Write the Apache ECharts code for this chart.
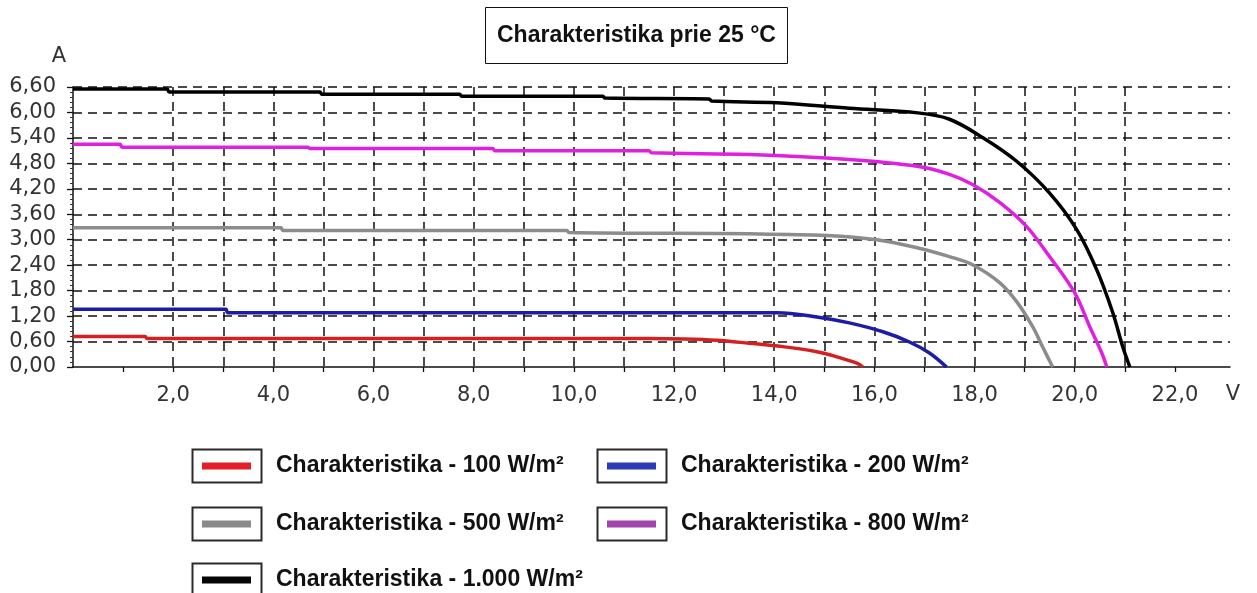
<!DOCTYPE html>
<html>
<head>
<meta charset="utf-8">
<title>Charakteristika prie 25 °C</title>
<script src="https://cdn.jsdelivr.net/npm/echarts@6/dist/echarts.min.js"></script>
<style>
  html, body { margin: 0; padding: 0; background: #fff; }
  #chart { width: 1257px; height: 593px; }
</style>
</head>
<body>
<div id="chart"></div>
<script>
// I-V curves of the module at 25 °C, [voltage V, current A]
const iv100 = [[0, 0.72], [1.44, 0.72], [1.48, 0.67], [11.5, 0.67], [12.2, 0.66], [12.85, 0.63], [13.5, 0.56], [14.17, 0.48], [14.85, 0.36], [15.25, 0.24], [15.65, 0.09], [15.77, 0]];
const iv200 = [[0, 1.36], [3.05, 1.36], [3.09, 1.28], [14.05, 1.28], [14.85, 1.18], [15.5, 1.04], [16.17, 0.83], [16.7, 0.59], [17.1, 0.33], [17.44, 0]];
const iv500 = [[0, 3.28], [4.15, 3.28], [4.19, 3.22], [9.86, 3.22], [9.9, 3.17], [13.5, 3.14], [15.05, 3.10], [16.05, 3.0], [16.85, 2.81], [17.5, 2.60], [17.96, 2.41], [18.5, 1.99], [18.84, 1.54], [19.16, 0.95], [19.36, 0.47], [19.56, 0]];
const iv800 = [[0, 5.25], [0.94, 5.25], [0.98, 5.18], [4.69, 5.18], [4.73, 5.15], [8.38, 5.15], [8.42, 5.10], [11.5, 5.10], [11.55, 5.05], [13.5, 5.01], [15.5, 4.89], [16.85, 4.73], [17.5, 4.54], [17.96, 4.30], [18.5, 3.88], [19.04, 3.31], [19.5, 2.60], [20.0, 1.75], [20.3, 0.95], [20.54, 0.33], [20.64, 0]];
const iv1000 = [[0, 6.55], [1.88, 6.55], [1.92, 6.48], [4.93, 6.48], [4.97, 6.43], [7.72, 6.43], [7.76, 6.38], [10.58, 6.38], [10.62, 6.34], [12.7, 6.32], [12.75, 6.27], [14.05, 6.23], [15.5, 6.10], [16.87, 5.99], [17.5, 5.84], [18.16, 5.41], [18.84, 4.85], [19.49, 4.11], [20.04, 3.24], [20.44, 2.29], [20.76, 1.28], [20.96, 0.47], [21.1, 0]];

const seriesNames = [
  'Charakteristika - 100 W/m²',
  'Charakteristika - 200 W/m²',
  'Charakteristika - 500 W/m²',
  'Charakteristika - 800 W/m²',
  'Charakteristika - 1.000 W/m²'
];

// axis ticks
const voltLabels = [2, 4, 6, 8, 10, 12, 14, 16, 18, 20, 22];
const voltTicks = [1, 2, 3, 4, 5, 6, 7, 8, 9, 10, 11, 12, 13, 14, 15, 16, 17, 18, 19, 20, 21, 22];
const ampTicks = [0, 0.6, 1.2, 1.8, 2.4, 3.0, 3.6, 4.2, 4.8, 5.4, 6.0, 6.6];

const lineColors = ['#d42020', '#1c1ca8', '#8c8c8c', '#e020e0', '#000000'];
const legendColors = ['#e3202a', '#2c3cb4', '#8a8a8a', '#a244ac', '#050505'];

const curves = [iv100, iv200, iv500, iv800, iv1000];

const boldFont = "'Liberation Sans', Arial, sans-serif";
const axisFont = "'DejaVu Sans', Verdana, sans-serif";
const gridDash = { color: '#111', width: 1.5, type: [9, 6] };

// legend slots: [box left, box top]
const slots = [[192, 449], [597, 449], [192, 507], [597, 507], [192, 563]];

const legends = seriesNames.map((name, i) => ({
  data: [{ name: name, itemStyle: { color: legendColors[i] } }],
  left: slots[i][0] + 10,
  top: slots[i][1] + 4,
  padding: 0,
  icon: 'rect',
  itemWidth: 49,
  itemHeight: 7,
  selectedMode: false,
  z: 5,
  textStyle: {
    fontFamily: boldFont,
    fontSize: 23,
    fontWeight: 'bold',
    color: '#111',
    lineHeight: 26,
    padding: [0, 0, 0, 20]
  }
}));

const boxes = slots.map(s => ({
  type: 'rect',
  z: 1,
  shape: { x: s[0] + 0.5, y: s[1] + 0.5, width: 69, height: 33 },
  style: { fill: '#fff', stroke: '#2a2a2a', lineWidth: 2 }
}));

const option = {
  backgroundColor: '#fff',
  animation: false,
  title: {
    text: 'Charakteristika prie 25 °C',
    left: 485,
    top: 7,
    padding: [16, 12, 16, 12],
    borderColor: '#111',
    borderWidth: 1,
    textStyle: {
      fontFamily: boldFont,
      fontSize: 23,
      fontWeight: 'bold',
      color: '#111',
      lineHeight: 25
    }
  },
  grid: { left: 73, top: 87, right: 27, bottom: 226, containLabel: false },
  xAxis: {
    type: 'value',
    min: 0,
    max: 23.1,
    interval: 2,
    name: 'V',
    nameLocation: 'end',
    nameGap: 3,
    nameTextStyle: {
      fontFamily: axisFont, fontSize: 21, color: '#333',
      align: 'center', verticalAlign: 'top', padding: [17, 0, 0, 0]
    },
    axisLine: { show: true, lineStyle: { color: '#111', width: 1.5 } },
    axisTick: { show: true, length: 5, customValues: voltTicks, lineStyle: { color: '#111', width: 1.3 } },
    axisLabel: {
      customValues: voltLabels,
      margin: 18,
      fontFamily: axisFont,
      fontSize: 21,
      color: '#333',
      formatter: v => v.toFixed(1).replace('.', ',')
    },
    splitLine: { show: true, showMinLine: false, showMaxLine: false, lineStyle: gridDash }
  },
  yAxis: {
    type: 'value',
    min: 0,
    max: 6.6,
    interval: 0.6,
    name: 'A',
    nameLocation: 'end',
    nameGap: 20,
    nameTextStyle: {
      fontFamily: axisFont, fontSize: 21, color: '#333',
      align: 'right', padding: [0, 7, 0, 0]
    },
    axisLine: { show: true, lineStyle: { color: '#111', width: 1.5 } },
    axisTick: { show: true, length: 6, customValues: ampTicks, lineStyle: { color: '#111', width: 1.3 } },
    minorTick: { show: true, splitNumber: 5, length: 3, lineStyle: { color: '#333', width: 1 } },
    axisLabel: {
      customValues: ampTicks,
      margin: 17,
      fontFamily: axisFont,
      fontSize: 21,
      color: '#333',
      formatter: v => v.toFixed(2).replace('.', ',')
    },
    splitLine: { show: true, showMinLine: false, lineStyle: gridDash }
  },
  legend: legends,
  graphic: boxes,
  series: curves.map((data, i) => ({
    name: seriesNames[i],
    type: 'line',
    data: data,
    showSymbol: false,
    symbol: 'none',
    smooth: 0.35,
    lineStyle: { color: lineColors[i], width: 3.5 },
    itemStyle: { color: lineColors[i] },
    z: 2
  }))
};

const chart = echarts.init(document.getElementById('chart'), null, { renderer: 'canvas' });
chart.setOption(option);
</script>
</body>
</html>
